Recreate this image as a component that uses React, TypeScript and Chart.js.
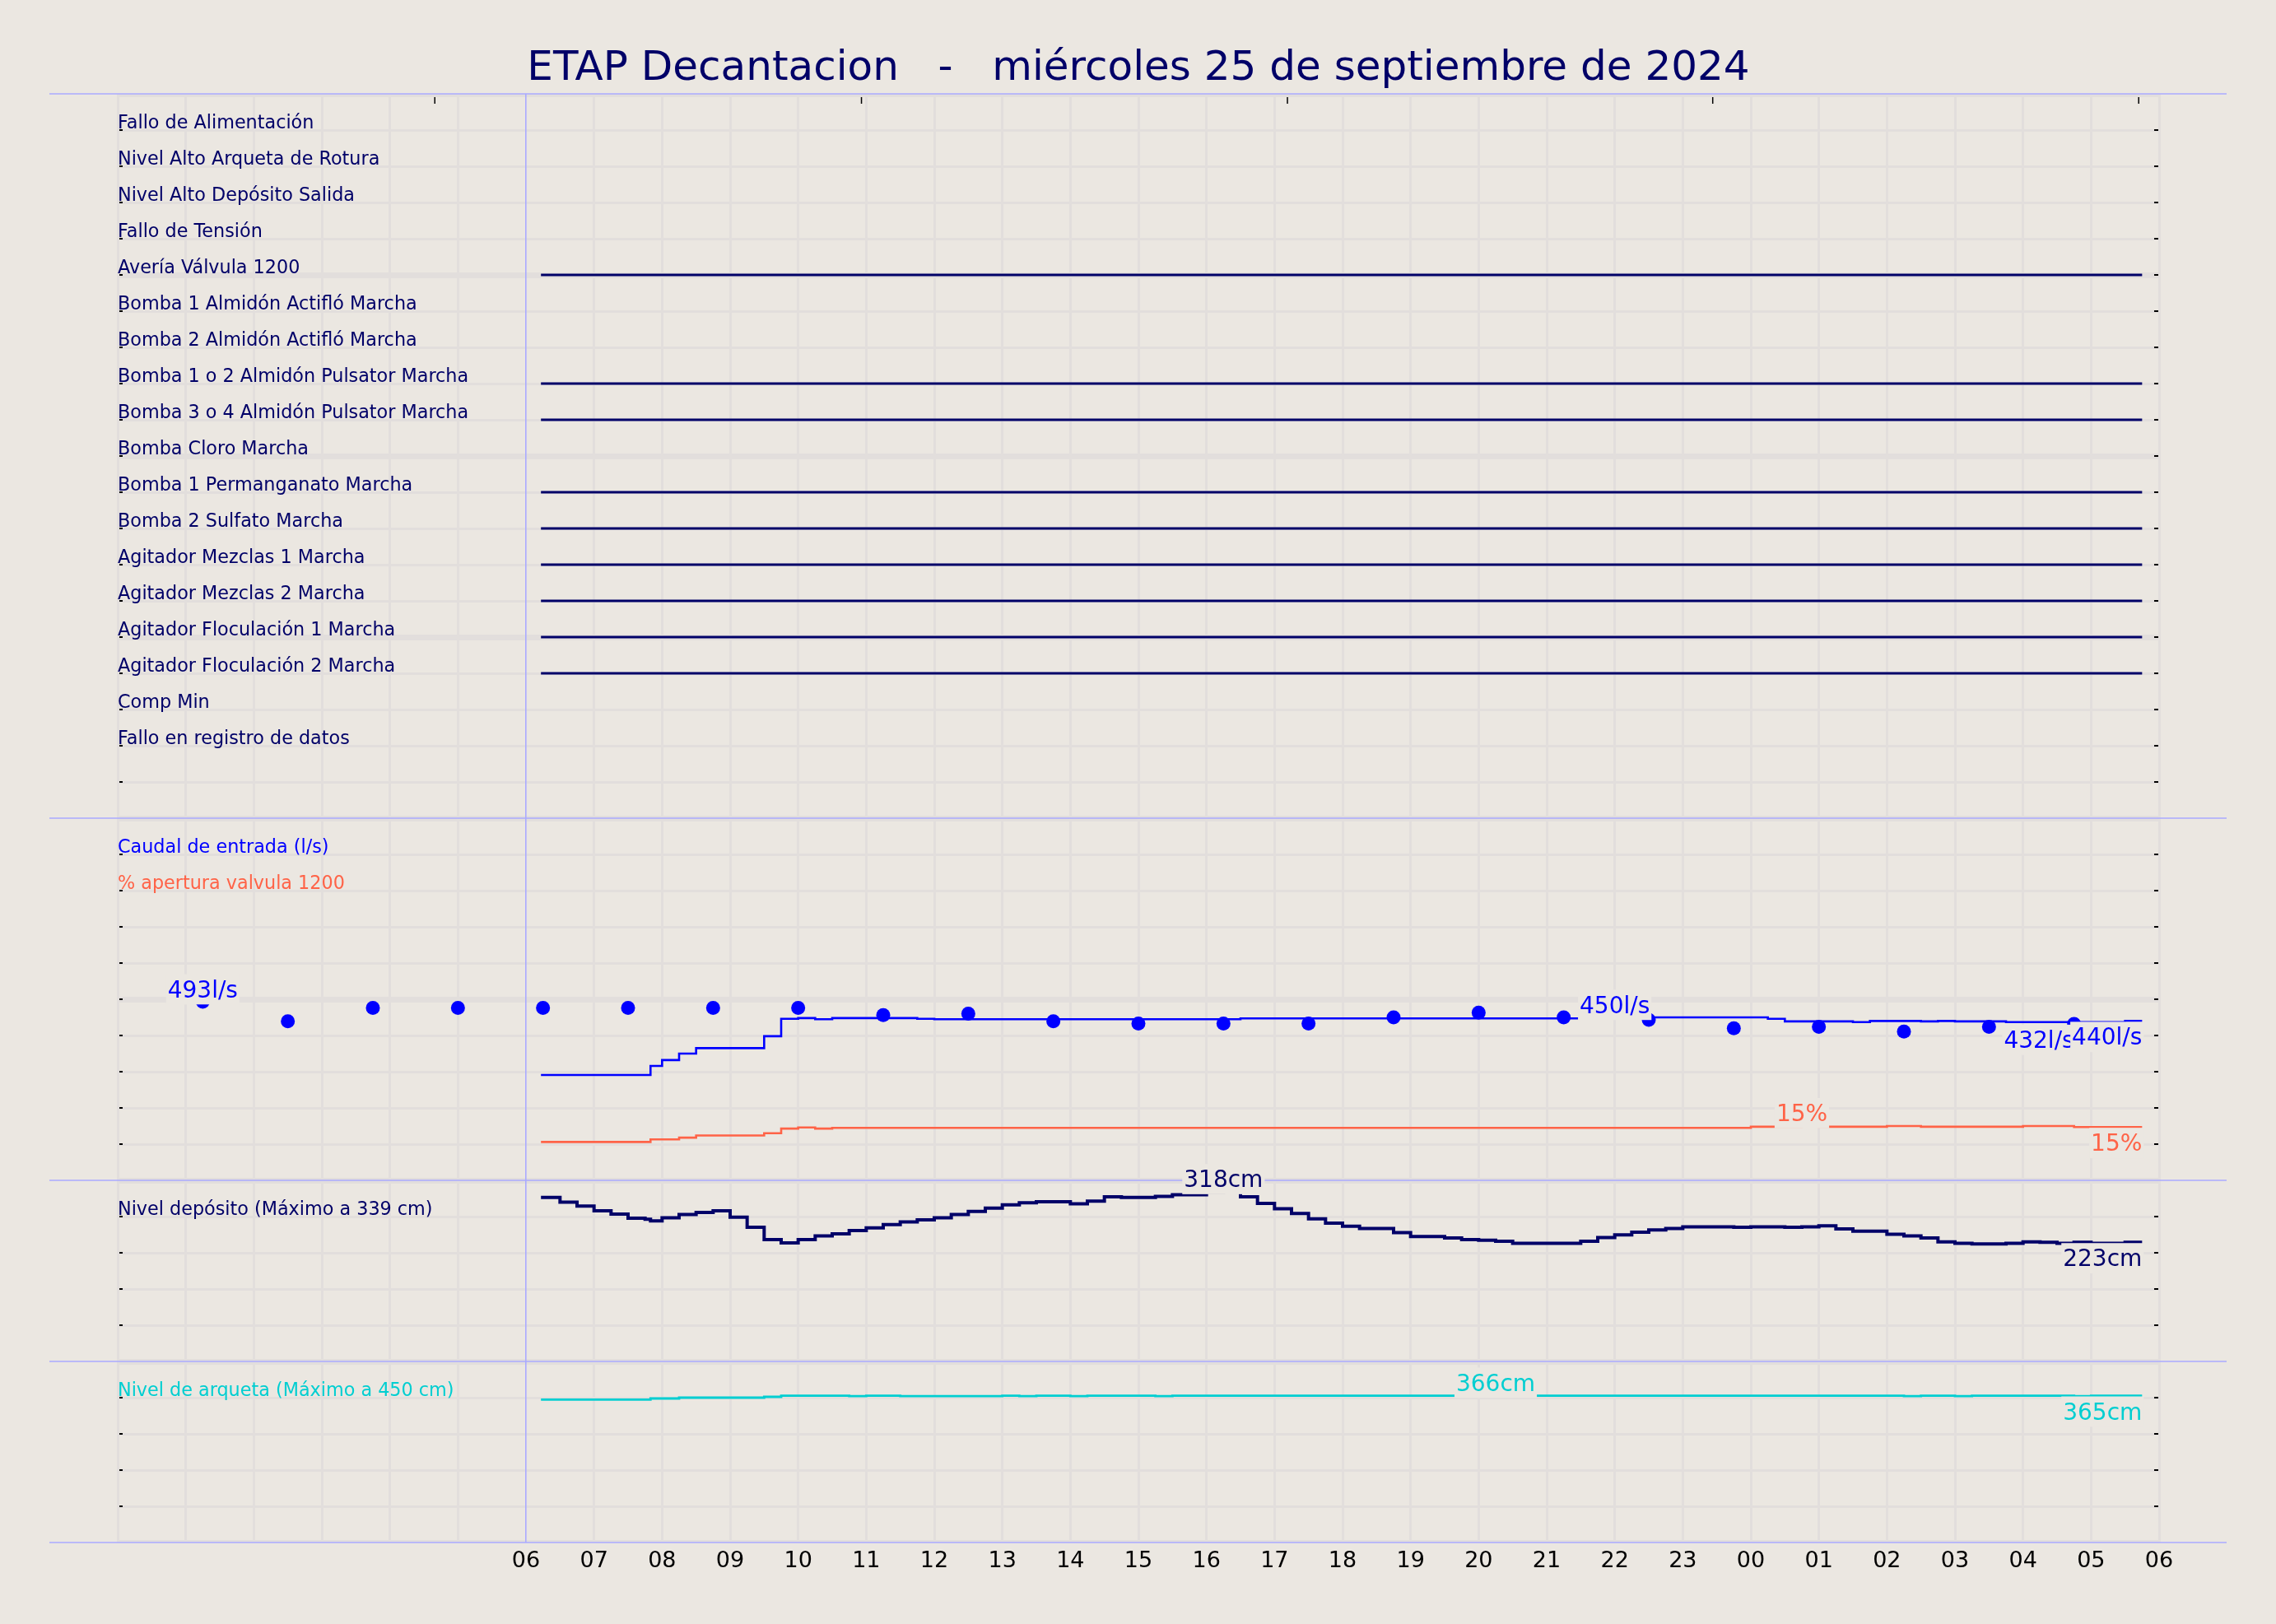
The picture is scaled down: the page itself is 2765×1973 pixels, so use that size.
import React, { useEffect, useRef } from 'react';
import { Chart, registerables } from 'chart.js';

Chart.register(...registerables);

const W = 2765;
const H = 1973;
const FONT = '"DejaVu Sans", "Liberation Sans", sans-serif';
const BG = '#ebe7e1';
const GRID = '#e2dedc';
const SEP = '#aaaaff';
const NAVY = '#000068';
const BLUE = '#0000ff';
const TOMATO = '#ff6347';
const TURQ = '#00ced1';

const TITLE = 'ETAP Decantacion   -   miércoles 25 de septiembre de 2024';

// x axis: hours counted from 00:00 of the 25th
const hourTicks = [0, 1, 2, 3, 4, 5, 6, 7, 8, 9, 10, 11, 12, 13, 14, 15, 16, 17, 18, 19, 20, 21, 22, 23, 24, 25, 26, 27, 28, 29, 30];
const hourTickLabels = ['', '', '', '', '', '', '06', '07', '08', '09', '10', '11', '12', '13', '14', '15', '16', '17', '18', '19', '20', '21', '22', '23', '00', '01', '02', '03', '04', '05', '06'];
const topTickHours = [4.66, 10.93, 17.19, 23.44, 29.7];

// digital signals
const signalLabels = [
  'Fallo de Alimentación',
  'Nivel Alto Arqueta de Rotura',
  'Nivel Alto Depósito Salida',
  'Fallo de Tensión',
  'Avería Válvula 1200',
  'Bomba 1 Almidón Actifló Marcha',
  'Bomba 2 Almidón Actifló Marcha',
  'Bomba 1 o 2 Almidón Pulsator Marcha',
  'Bomba 3 o 4 Almidón Pulsator Marcha',
  'Bomba Cloro Marcha',
  'Bomba 1 Permanganato Marcha',
  'Bomba 2 Sulfato Marcha',
  'Agitador Mezclas 1 Marcha',
  'Agitador Mezclas 2 Marcha',
  'Agitador Floculación 1 Marcha',
  'Agitador Floculación 2 Marcha',
  'Comp Min',
  'Fallo en registro de datos',
];
const signalOn = [0, 0, 0, 0, 1, 0, 0, 1, 1, 0, 1, 1, 1, 1, 1, 1, 0, 0];
const sigRowTicks = [0, 1, 2, 3, 4, 5, 6, 7, 8, 9, 10, 11, 12, 13, 14, 15, 16, 17, 18, 19, 20];

// sample times (hours from 00:00 of the 25th)
const sampleHours = [
  6.22, 6.5, 6.75, 7, 7.25, 7.5, 7.75, 7.83, 8, 8.25, 8.5, 8.75, 9, 9.25, 9.5, 9.75,
  10, 10.25, 10.5, 10.75, 11, 11.25, 11.5, 11.75, 12, 12.25, 12.5, 12.75, 13, 13.25, 13.5, 13.75,
  14, 14.25, 14.5, 14.75, 15, 15.25, 15.5, 15.75, 16, 16.25, 16.5, 16.75, 17, 17.25, 17.5, 17.75,
  18, 18.25, 18.5, 18.75, 19, 19.25, 19.5, 19.75, 20, 20.25, 20.5, 20.75, 21, 21.25, 21.5, 21.75,
  22, 22.25, 22.5, 22.75, 23, 23.25, 23.5, 23.75, 24, 24.25, 24.5, 24.75, 25, 25.25, 25.5, 25.75,
  26, 26.25, 26.5, 26.75, 27, 27.25, 27.5, 27.75, 28, 28.25, 28.5, 28.75, 29, 29.25, 29.5, 29.75,
];

// Caudal de entrada (l/s)
const caudal = [
  291, 291, 291, 291, 291, 291, 291, 316, 332, 350, 365, 365, 365, 365, 398, 446,
  448, 445, 448, 448, 448, 448, 448, 446, 445, 445, 445, 445, 445, 445, 445, 445,
  445, 445, 445, 445, 445, 445, 445, 445, 445, 445, 447, 447, 447, 447, 447, 447,
  447, 447, 447, 447, 447, 447, 447, 447, 447, 447, 447, 447, 447, 447, 447, 447,
  450, 450, 450, 450, 450, 450, 450, 450, 450, 446, 439, 439, 439, 439, 437, 440,
  440, 440, 439, 440, 439, 439, 439, 437, 437, 437, 437, 437, 437, 437, 440, 440,
];

// % apertura valvula 1200
const apertura = [
  10.6, 10.6, 10.6, 10.6, 10.6, 10.6, 10.6, 11.3, 11.3, 11.8, 12.4, 12.4, 12.4, 12.4, 13.0, 14.3,
  14.6, 14.3, 14.5, 14.5, 14.5, 14.5, 14.5, 14.5, 14.5, 14.5, 14.5, 14.5, 14.5, 14.5, 14.5, 14.5,
  14.5, 14.5, 14.5, 14.5, 14.5, 14.5, 14.5, 14.5, 14.5, 14.5, 14.5, 14.5, 14.5, 14.5, 14.5, 14.5,
  14.5, 14.5, 14.5, 14.5, 14.5, 14.5, 14.5, 14.5, 14.5, 14.5, 14.5, 14.5, 14.5, 14.5, 14.5, 14.5,
  14.5, 14.5, 14.5, 14.5, 14.5, 14.5, 14.5, 14.5, 14.8, 14.8, 14.8, 15.1, 14.8, 14.8, 14.8, 14.8,
  15.0, 15.0, 14.8, 14.8, 14.8, 14.8, 14.8, 14.8, 15.0, 15.0, 15.0, 14.7, 14.7, 14.7, 14.7, 14.7,
];

// Nivel depósito (cm)
const deposito = [
  307, 298, 291, 282, 276, 268, 266, 263, 269, 275, 279, 282, 270, 251, 228, 222,
  228, 235, 239, 245, 250, 256, 261, 265, 269, 275, 281, 287, 293, 297, 299, 299,
  295, 300, 308, 307, 307, 309, 312, 312, 317, 318, 308, 296, 286, 277, 267, 259,
  253, 249, 249, 241, 234, 234, 231, 228, 227, 225, 221, 221, 221, 221, 225, 232,
  237, 242, 246, 249, 252, 252, 252, 251, 252, 252, 251, 252, 254, 248, 244, 244,
  238, 235, 231, 224, 221, 220, 220, 221, 224, 223, 221, 223, 221, 221, 223, 223,
];

// Nivel de arqueta (cm)
const arqueta = [
  355, 355, 355, 355, 355, 355, 355, 358, 358, 360, 360, 360, 360, 360, 362, 365,
  365, 365, 365, 364, 365, 365, 364, 364, 364, 364, 364, 364, 365, 364, 365, 365,
  364, 365, 365, 365, 365, 364, 365, 365, 365, 365, 365, 365, 365, 365, 365, 365,
  365, 365, 365, 365, 365, 365, 365, 365, 365, 366, 365, 365, 365, 365, 365, 365,
  365, 365, 365, 365, 365, 365, 365, 365, 365, 365, 365, 365, 365, 365, 365, 365,
  365, 364, 365, 365, 364, 365, 365, 365, 365, 365, 365, 364, 365, 365, 365, 365,
];

// Caudal (points, every 1h15)
const dotHours = [1.25, 2.5, 3.75, 5, 6.25, 7.5, 8.75, 10, 11.25, 12.5, 13.75, 15, 16.25, 17.5, 18.75, 20, 21.25, 22.5, 23.75, 25, 26.25, 27.5, 28.75];
const dotCaudal = [493, 439, 476, 476, 476, 476, 476, 476, 456, 460, 439, 433, 433, 433, 450, 463, 450, 443, 420, 424, 411, 424, 432];

const FLOW_MAX = 1000;
const DEP_MAX = 339;
const ARQ_MAX = 450;
const flowTicks = [0, 100, 200, 300, 400, 500, 600, 700, 800, 900, 1000];
const depTicks = [0, 67.8, 135.6, 203.4, 271.2, 339];
const arqTicks = [0, 90, 180, 270, 360, 450];

const sectionLabels = [
  { axis: 'yFlow', value: 900, text: 'Caudal de entrada (l/s)', color: BLUE },
  { axis: 'yFlow', value: 800, text: '% apertura valvula 1200', color: TOMATO },
  { axis: 'yDep', value: 271.2, text: 'Nivel depósito (Máximo a 339 cm)', color: NAVY },
  { axis: 'yArq', value: 360, text: 'Nivel de arqueta (Máximo a 450 cm)', color: TURQ },
];

const pts = (xs: number[], ys: (number | null)[]) => xs.map((x, i) => ({ x, y: ys[i] }));

const decorPlugin = {
  id: 'decor',
  beforeDraw(chart: any) {
    const { ctx, width, height } = chart;
    ctx.save();
    ctx.fillStyle = BG;
    ctx.fillRect(0, 0, width, height);
    ctx.restore();
  },
  beforeDatasetsDraw(chart: any) {
    const { ctx, chartArea: a, scales } = chart;
    ctx.save();
    // gridlines are clipped to the axes area
    ctx.fillStyle = BG;
    ctx.fillRect(a.left - 3, a.top - 3.6, a.right - a.left + 6, 3.6);
    ctx.fillRect(a.left - 3, a.bottom, a.right - a.left + 6, 4);

    // inward y tick marks
    ctx.strokeStyle = '#000';
    ctx.lineWidth = 2;
    ['ySig', 'yFlow', 'yDep', 'yArq'].forEach((id) => {
      const s = scales[id];
      s.ticks.forEach((t: any, i: number) => {
        if (i === 0 || i === s.ticks.length - 1) return;
        const y = Math.round(s.getPixelForValue(t.value));
        ctx.beginPath();
        ctx.moveTo(a.left + 2, y);
        ctx.lineTo(a.left + 6, y);
        ctx.moveTo(a.right - 6, y);
        ctx.lineTo(a.right - 1, y);
        ctx.stroke();
      });
    });
    // top ticks
    ctx.lineWidth = 1.5;
    topTickHours.forEach((h) => {
      const x = scales.x.getPixelForValue(h);
      ctx.beginPath();
      ctx.moveTo(x, a.top + 4);
      ctx.lineTo(x, a.top + 12);
      ctx.stroke();
    });

    // section separators
    ctx.strokeStyle = SEP;
    ctx.lineWidth = 1.6;
    const ys = [scales.ySig.top, scales.yFlow.top, scales.yDep.top, scales.yArq.top, scales.yArq.bottom];
    ys.forEach((y) => {
      ctx.beginPath();
      ctx.moveTo(a.left - 83, y);
      ctx.lineTo(a.right + 82, y);
      ctx.stroke();
    });

    // row labels
    ctx.font = `22.3px ${FONT}`;
    ctx.textAlign = 'left';
    ctx.textBaseline = 'alphabetic';
    ctx.fillStyle = NAVY;
    signalLabels.forEach((txt, i) => {
      ctx.fillText(txt, a.left, scales.ySig.getPixelForValue(i + 1) - 2);
    });
    sectionLabels.forEach((l) => {
      ctx.fillStyle = l.color;
      ctx.fillText(l.text, a.left, scales[l.axis].getPixelForValue(l.value) - 2);
    });
    ctx.restore();
  },
  afterDatasetsDraw(chart: any) {
    const { ctx } = chart;
    ctx.save();
    const size = 28;
    ctx.font = `${size}px ${FONT}`;
    ctx.textBaseline = 'alphabetic';
    const asc = 0.93 * size;
    const desc = 0.24 * size;
    const draw = (p: any, text: string, kind: string, color: string) => {
      const w = ctx.measureText(text).width;
      let left: number;
      let y: number;
      if (kind === 'max') {
        ctx.textAlign = 'center';
        y = p.y - 5.5;
        left = p.x - w / 2;
      } else {
        ctx.textAlign = 'right';
        y = p.y + 29;
        left = p.x - w;
      }
      ctx.fillStyle = BG;
      ctx.fillRect(left - 2, y - asc - 2, w + 4, asc + desc + 4);
      ctx.fillStyle = color;
      ctx.fillText(text, p.x, y);
    };
    chart.data.datasets.forEach((ds: any, di: number) => {
      if (!ds.valueUnit) return;
      const meta = chart.getDatasetMeta(di);
      const vals = ds.data.map((d: any) => d.y);
      let maxI = 0;
      vals.forEach((v: number, i: number) => {
        if (v > vals[maxI]) maxI = i;
      });
      const lastI = vals.length - 1;
      draw(meta.data[maxI], `${Math.round(vals[maxI])}${ds.valueUnit}`, 'max', ds.labelColor);
      draw(meta.data[lastI], `${Math.round(vals[lastI])}${ds.valueUnit}`, 'last', ds.labelColor);
    });
    ctx.restore();
  },
};

const gridY = {
  color: GRID,
  lineWidth: (c: any) => (c.index % 5 === 0 ? 7 : 3),
  drawTicks: false,
};

const stacked = (extra: any) => ({
  type: 'linear',
  position: 'left',
  stack: 'main',
  ticks: { display: false },
  grid: gridY,
  border: { display: false },
  ...extra,
});

function buildConfig(): any {
  const signalSets = signalLabels.map((lab, i) => ({
    label: lab,
    data: pts(sampleHours, sampleHours.map(() => (signalOn[i] ? i + 1 : null))),
    yAxisID: 'ySig',
    borderColor: NAVY,
    borderWidth: 3,
    pointRadius: 0,
    order: 2,
  }));
  return {
    type: 'line',
    data: {
      datasets: [
        {
          label: 'Caudal (puntos)',
          data: pts(dotHours, dotCaudal),
          yAxisID: 'yFlow',
          showLine: false,
          pointRadius: 8.5,
          pointBackgroundColor: BLUE,
          pointBorderColor: BLUE,
          pointBorderWidth: 0,
          order: 0,
          valueUnit: 'l/s',
          labelColor: BLUE,
        },
        {
          label: 'Caudal de entrada (l/s)',
          data: pts(sampleHours, caudal),
          yAxisID: 'yFlow',
          borderColor: BLUE,
          borderWidth: 2.6,
          stepped: true,
          pointRadius: 0,
          order: 1,
          valueUnit: 'l/s',
          labelColor: BLUE,
        },
        {
          label: '% apertura valvula 1200',
          data: pts(sampleHours, apertura),
          yAxisID: 'yPct',
          borderColor: TOMATO,
          borderWidth: 2.6,
          stepped: true,
          pointRadius: 0,
          order: 1,
          valueUnit: '%',
          labelColor: TOMATO,
        },
        {
          label: 'Nivel depósito',
          data: pts(sampleHours, deposito),
          yAxisID: 'yDep',
          borderColor: NAVY,
          borderWidth: 4,
          stepped: true,
          pointRadius: 0,
          order: 1,
          valueUnit: 'cm',
          labelColor: NAVY,
        },
        {
          label: 'Nivel de arqueta',
          data: pts(sampleHours, arqueta),
          yAxisID: 'yArq',
          borderColor: TURQ,
          borderWidth: 2.8,
          stepped: true,
          pointRadius: 0,
          order: 1,
          valueUnit: 'cm',
          labelColor: TURQ,
        },
        ...signalSets,
      ],
    },
    options: {
      responsive: false,
      maintainAspectRatio: false,
      devicePixelRatio: 1,
      animation: false,
      events: [],
      layout: { padding: { top: 54, left: 143, right: 142, bottom: 52.6 } },
      plugins: {
        legend: { display: false },
        tooltip: { enabled: false },
        title: {
          display: true,
          text: TITLE,
          color: NAVY,
          font: { family: FONT, size: 50, weight: 'normal' },
          padding: { top: 0, bottom: 0 },
        },
      },
      elements: { line: { borderCapStyle: 'butt', borderJoinStyle: 'miter', tension: 0 } },
      scales: {
        ySig: stacked({
          min: 0,
          max: 20,
          reverse: true,
          stackWeight: 4,
          weight: 4,
          afterBuildTicks: (s: any) => {
            s.ticks = sigRowTicks.map((v) => ({ value: v }));
          },
        }),
        yFlow: stacked({
          min: 0,
          max: FLOW_MAX,
          stackWeight: 2,
          weight: 3,
          afterBuildTicks: (s: any) => {
            s.ticks = flowTicks.map((v) => ({ value: v }));
          },
        }),
        yDep: stacked({
          min: 0,
          max: DEP_MAX,
          stackWeight: 1,
          weight: 2,
          afterBuildTicks: (s: any) => {
            s.ticks = depTicks.map((v) => ({ value: v }));
          },
        }),
        yArq: stacked({
          min: 0,
          max: ARQ_MAX,
          stackWeight: 1,
          weight: 1,
          afterBuildTicks: (s: any) => {
            s.ticks = arqTicks.map((v) => ({ value: v }));
          },
        }),
        yPct: {
          type: 'linear',
          position: 'left',
          display: false,
          min: -100,
          max: 300,
          weight: 0,
        },
        x: {
          type: 'linear',
          position: 'bottom',
          min: 0,
          max: 30,
          afterBuildTicks: (s: any) => {
            s.ticks = hourTicks.map((v) => ({ value: v }));
          },
          ticks: {
            autoSkip: false,
            maxRotation: 0,
            padding: 7,
            color: '#000',
            font: { family: FONT, size: 27 },
            callback: (_v: any, i: number) => hourTickLabels[i],
          },
          grid: {
            color: (c: any) => (c.tick && c.tick.value === 6 ? SEP : GRID),
            lineWidth: (c: any) => (c.tick && c.tick.value === 6 ? 1.6 : 3),
            drawTicks: false,
          },
          border: { display: false },
        },
      },
    },
    plugins: [decorPlugin],
  };
}

export default function App() {
  const ref = useRef<HTMLCanvasElement>(null);
  useEffect(() => {
    document.body.style.margin = '0';
    const chart = new Chart(ref.current as HTMLCanvasElement, buildConfig());
    return () => chart.destroy();
  }, []);
  return (
    <div style={{ position: 'absolute', left: 0, top: 0, width: W, height: H, background: BG }}>
      <canvas ref={ref} width={W} height={H} style={{ display: 'block' }} />
    </div>
  );
}
